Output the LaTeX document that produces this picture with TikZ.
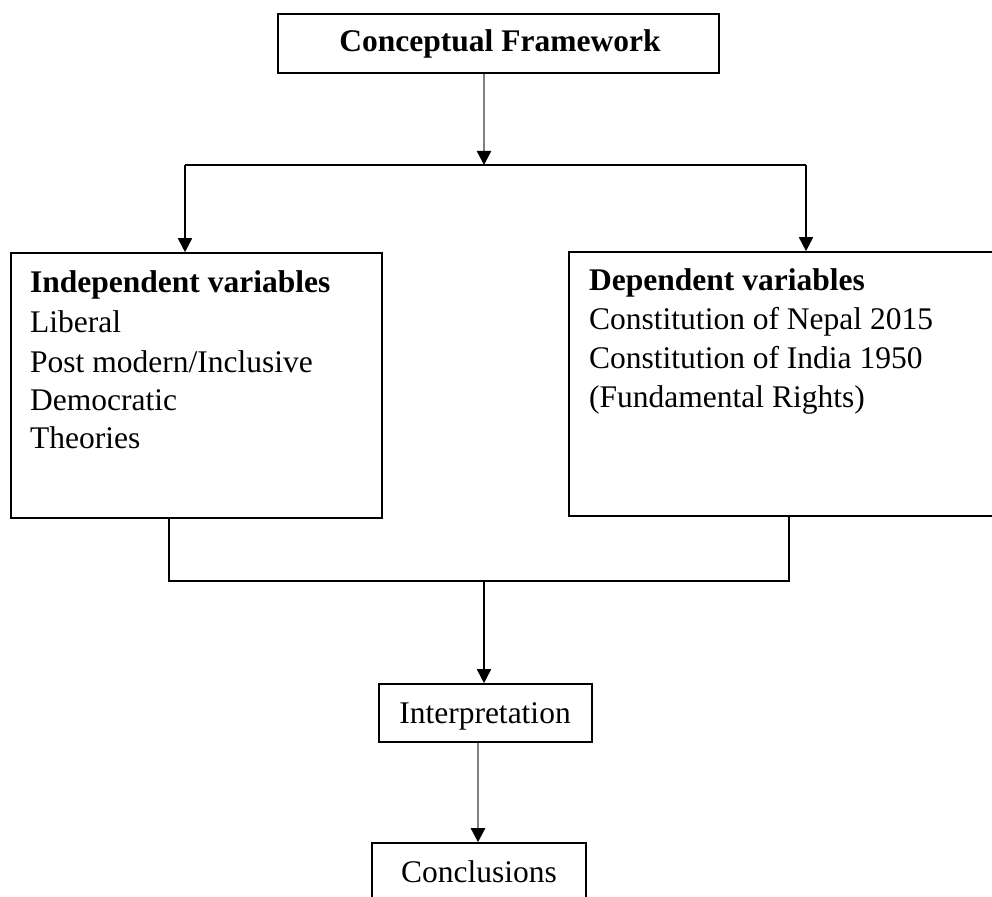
\documentclass[tikz,border=0pt]{standalone}
\usepackage{fontspec}
\setmainfont{Liberation Serif}
\usetikzlibrary{arrows.meta}
\begin{document}
\begin{tikzpicture}[x=1pt,y=-1pt,
  every node/.style={font=\fontsize{31.5}{39.5}\selectfont},
  boxnode/.style={draw=black,line width=1.6pt,inner sep=0pt},
  txt/.style={inner sep=0pt,anchor=base west},
  ctxt/.style={inner sep=0pt,anchor=base},
  conn/.style={draw=black,line width=1.6pt},
  arr/.style={conn,-{Triangle[width=14pt,length=14pt,color=black]}},
  grayarr/.style={draw=black!50,line width=2.4pt,-{Triangle[width=14pt,length=14pt,color=black]}}]
\useasboundingbox (0,0) rectangle (992,896);
% boxes
\node[boxnode,minimum width=441pt,minimum height=59pt] (top) at (498.5,43.5) {};
\node[boxnode,minimum width=371pt,minimum height=265pt] (left) at (196.5,385.5) {};
\node[boxnode,minimum width=426pt,minimum height=264pt] (right) at (782,384) {};
\node[boxnode,minimum width=213pt,minimum height=58pt] (interp) at (485.5,713) {};
\node[boxnode,minimum width=214pt,minimum height=62pt] (concl) at (479,874) {};
% texts
\node[ctxt] (toptxt) at (500,52) {\bfseries Conceptual Framework};
\node[txt] (l1) at (30,292) {\bfseries Independent variables};
\node[txt] (l2) at (30,332) {Liberal};
\node[txt] (l3) at (30,372) {Post modern/Inclusive};
\node[txt] (l4) at (30,410) {Democratic};
\node[txt] (l5) at (30,448) {Theories};
\node[txt] (r1) at (589,290) {\bfseries Dependent variables};
\node[txt] (r2) at (589,329) {Constitution of Nepal 2015};
\node[txt] (r3) at (589,368) {Constitution of India 1950};
\node[txt] (r4) at (589,407) {(Fundamental Rights)};
\node[ctxt] (itxt) at (485,723) {Interpretation};
\node[ctxt] (ctxtn) at (479,882) {Conclusions};
% connectors
\coordinate (jt) at (484,165);
\coordinate (hl) at (185,165);
\coordinate (hr) at (806,165);
\draw[grayarr] (top.south -| jt) -- (jt);
\draw[conn] (hl) -- (hr);
\draw[arr] (hl) -- (hl |- left.north);
\draw[arr] (hr) -- (hr |- right.north);
\coordinate (bl) at (169,581);
\coordinate (br) at (789,581);
\coordinate (bm) at (484,581);
\draw[conn] (left.south -| bl) -- (bl) -- (br) -- (right.south -| br);
\draw[arr] (bm) -- (bm |- interp.north);
\coordinate (im) at (478,742);
\draw[grayarr] (interp.south -| im) -- (concl.north -| im);
\end{tikzpicture}
\end{document}
